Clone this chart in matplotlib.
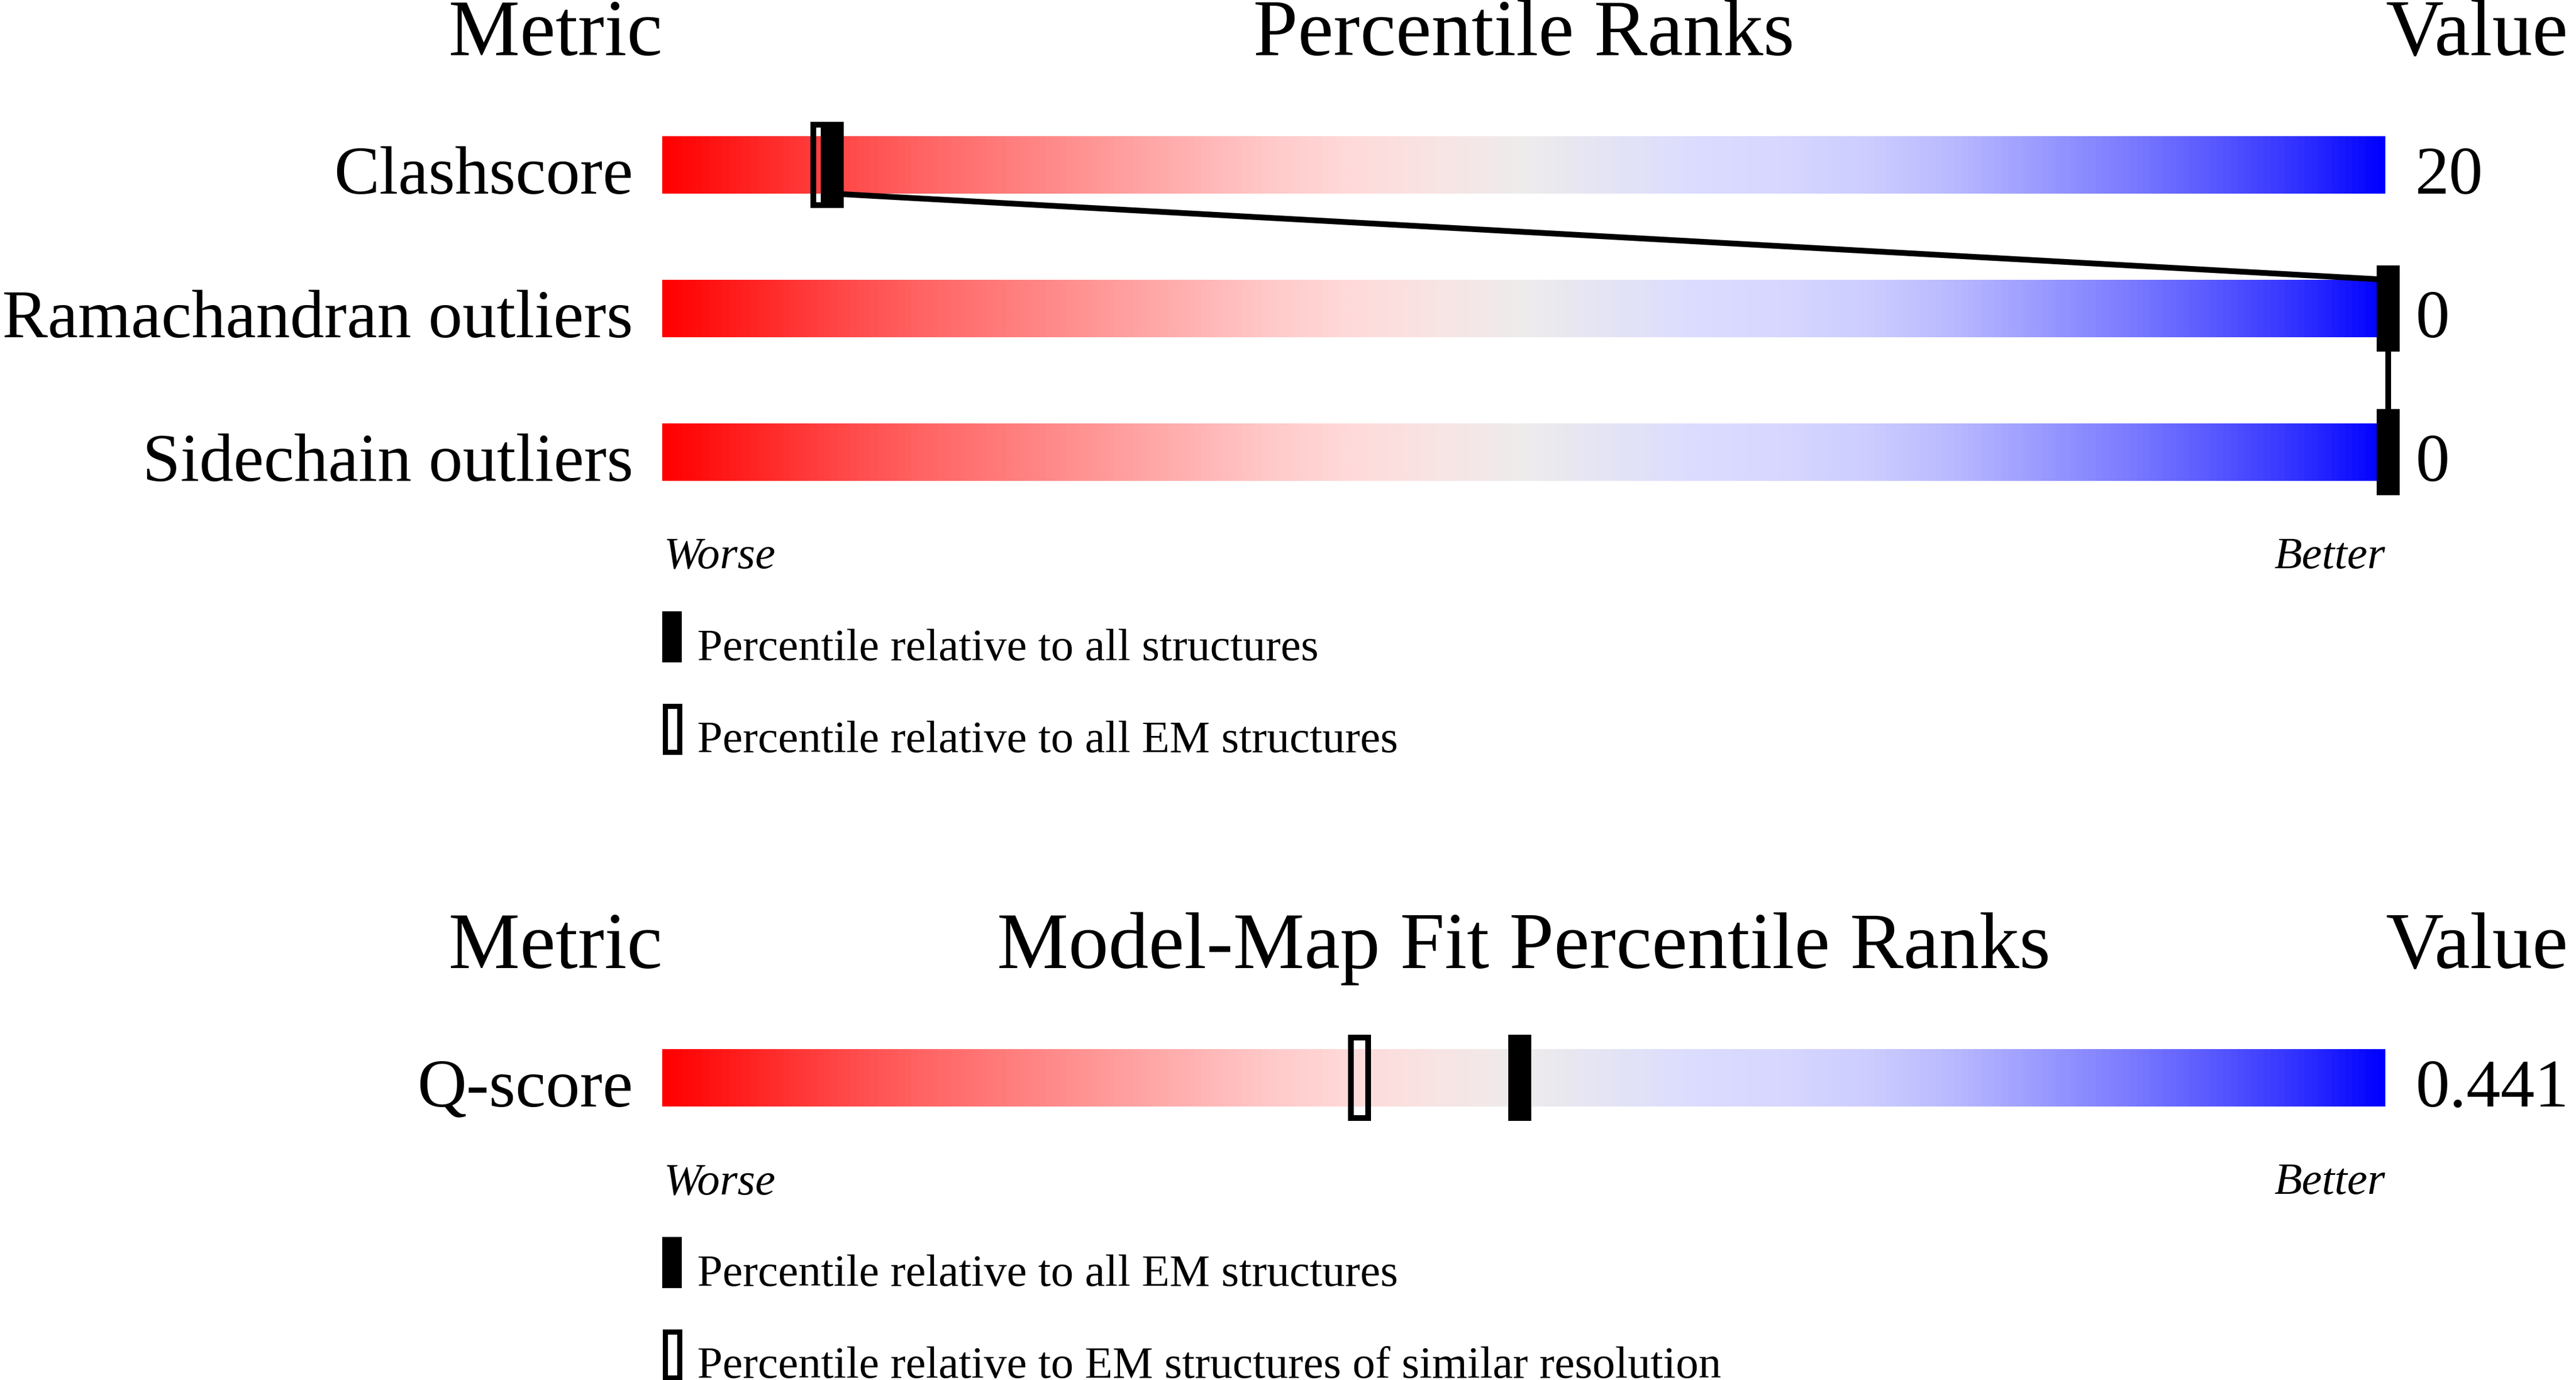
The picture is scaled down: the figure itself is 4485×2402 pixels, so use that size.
import matplotlib
matplotlib.use("Agg")
import matplotlib.pyplot as plt
import numpy as np
from matplotlib.colors import LinearSegmentedColormap
from matplotlib.patches import Rectangle

# ---------------- data ----------------
top_title = "Percentile Ranks"
top_metrics = ["Clashscore", "Ramachandran outliers", "Sidechain outliers"]
top_values = ["20", "0", "0"]
top_pct_all = [9.7, 100, 100]          # filled marker
top_pct_em = [9.1, None, None]         # open marker
top_legend = ["Percentile relative to all structures",
              "Percentile relative to all EM structures"]

fit_title = "Model-Map Fit Percentile Ranks"
fit_metrics = ["Q-score"]
fit_values = ["0.441"]
fit_pct_em = [49.6]                    # filled marker
fit_pct_res = [40.3]                   # open marker
fit_legend = ["Percentile relative to all EM structures",
              "Percentile relative to EM structures of similar resolution"]

# ---------------- style ----------------
W, H, DPI = 4485, 2402, 300
FONT = "Liberation Serif"
HEAD_FS, LAB_FS, SMALL_FS = 33.5, 28.5, 19

stops = [
    (0.00, (255, 0, 0)), (0.05, (255, 35, 35)), (0.10, (255, 70, 70)),
    (0.15, (255, 100, 100)), (0.20, (255, 125, 125)), (0.25, (255, 150, 150)),
    (0.30, (255, 175, 175)), (0.35, (255, 200, 200)), (0.40, (255, 218, 218)),
    (0.45, (248, 228, 228)), (0.50, (238, 236, 236)), (0.55, (228, 228, 245)),
    (0.60, (220, 220, 255)), (0.65, (215, 215, 255)), (0.70, (205, 205, 255)),
    (0.75, (185, 185, 255)), (0.80, (155, 155, 255)), (0.85, (125, 125, 255)),
    (0.90, (90, 90, 255)), (0.95, (50, 50, 255)), (1.00, (0, 0, 255)),
]
cmap = LinearSegmentedColormap.from_list(
    "rwb", [(s, tuple(c / 255 for c in col)) for s, col in stops])

fig = plt.figure(figsize=(W / DPI, H / DPI), dpi=DPI)
fig.patch.set_facecolor("white")

px_per_row = 250.0
bar_left_px, bar_right_px = 1153, 4153
px_per_unit_x = (bar_right_px - bar_left_px) / 100.0
MARK_DX = 5 / px_per_unit_x            # markers sit slightly right of the scale

BAR_H = 0.4
MARK_H = 0.6
LW_PT = 10 * 72 / DPI


def make_axes(top_px, nrows):
    bottom_px = top_px + nrows * px_per_row
    ax = fig.add_axes([bar_left_px / W, 1 - bottom_px / H,
                       (bar_right_px - bar_left_px) / W, nrows * px_per_row / H])
    ax.set_xlim(0, 100)
    ax.set_ylim(nrows - 0.5, -0.5)
    ax.axis("off")
    return ax


def draw_panel(ax, title, metrics, values, pct_filled, pct_open, legend, connect):
    n = len(metrics)
    grad = np.linspace(0, 1, 1024).reshape(1, -1)
    for i in range(n):
        ax.imshow(grad, cmap=cmap, aspect="auto", interpolation="bilinear",
                  extent=(0, 100, i + BAR_H / 2, i - BAR_H / 2), zorder=1)
    ax.set_xlim(0, 100)
    ax.set_ylim(n - 0.5, -0.5)

    # headers
    hy = -0.764
    ax.text(0, hy, "Metric", ha="right", va="baseline", fontsize=HEAD_FS,
            family=FONT, clip_on=False)
    ax.text(50, hy, title, ha="center", va="baseline", fontsize=HEAD_FS,
            family=FONT, clip_on=False)
    ax.text(100, hy, "Value", ha="left", va="baseline", fontsize=HEAD_FS,
            family=FONT, clip_on=False)

    # labels and values
    lab_dx = 51 / px_per_unit_x
    val_dx = 52 / px_per_unit_x
    for i in range(n):
        ax.text(-lab_dx, i + BAR_H / 2, metrics[i], ha="right", va="baseline",
                fontsize=LAB_FS, family=FONT, clip_on=False)
        ax.text(100 + val_dx, i + BAR_H / 2, values[i], ha="left", va="baseline",
                fontsize=LAB_FS, family=FONT, clip_on=False)

    # connecting line between filled markers
    if connect:
        for i in range(n - 1):
            ax.plot([pct_filled[i] + MARK_DX, pct_filled[i + 1] + MARK_DX],
                    [i + BAR_H / 2, i + 1 - BAR_H / 2],
                    color="black", lw=LW_PT, solid_capstyle="butt", zorder=2,
                    clip_on=False)

    open_w = 30 / px_per_unit_x
    open_h = 140 / px_per_row
    fill_w = 40 / px_per_unit_x
    for i in range(n):
        if pct_open[i] is not None:
            cx = pct_open[i] + MARK_DX
            ax.add_patch(Rectangle((cx - open_w / 2, i - open_h / 2),
                                   open_w, open_h, facecolor="none",
                                   edgecolor="black", lw=LW_PT, zorder=3,
                                   clip_on=False))
        if pct_filled[i] is not None:
            cx = pct_filled[i] + MARK_DX
            ax.add_patch(Rectangle((cx - fill_w / 2, i - MARK_H / 2),
                                   fill_w, MARK_H, facecolor="black",
                                   edgecolor="none", zorder=4, clip_on=False))

    last = n - 1
    ax.text(0.1, last + 202 / px_per_row, "Worse", ha="left", va="baseline",
            fontsize=SMALL_FS, family=FONT, style="italic", clip_on=False)
    ax.text(100, last + 202 / px_per_row, "Better", ha="right", va="baseline",
            fontsize=SMALL_FS, family=FONT, style="italic", clip_on=False)

    # legend
    leg_w = 34 / px_per_unit_x
    leg_h = 89 / px_per_row
    text_dx = 61 / px_per_unit_x
    for k, lab in enumerate(legend):
        top = last + (277 + 160 * k) / px_per_row
        if k == 0:
            ax.add_patch(Rectangle((0, top), leg_w, leg_h, facecolor="black",
                                   edgecolor="none", clip_on=False))
        else:
            bw = 9 / px_per_unit_x
            bh = 9 / px_per_row
            ax.add_patch(Rectangle((bw / 2, top + bh / 2), leg_w - bw, leg_h - bh,
                                   facecolor="none", edgecolor="black",
                                   lw=9 * 72 / DPI, clip_on=False))
        ax.text(text_dx, top + 85 / px_per_row, lab, ha="left", va="baseline",
                fontsize=SMALL_FS, family=FONT, clip_on=False)


ax_top = make_axes(287 - 125, len(top_metrics))
draw_panel(ax_top, top_title, top_metrics, top_values, top_pct_all, top_pct_em,
           top_legend, connect=True)

ax_fit = make_axes(1876 - 125, len(fit_metrics))
draw_panel(ax_fit, fit_title, fit_metrics, fit_values, fit_pct_em, fit_pct_res,
           fit_legend, connect=False)

fig.savefig("out.png", dpi=DPI, facecolor="white")
